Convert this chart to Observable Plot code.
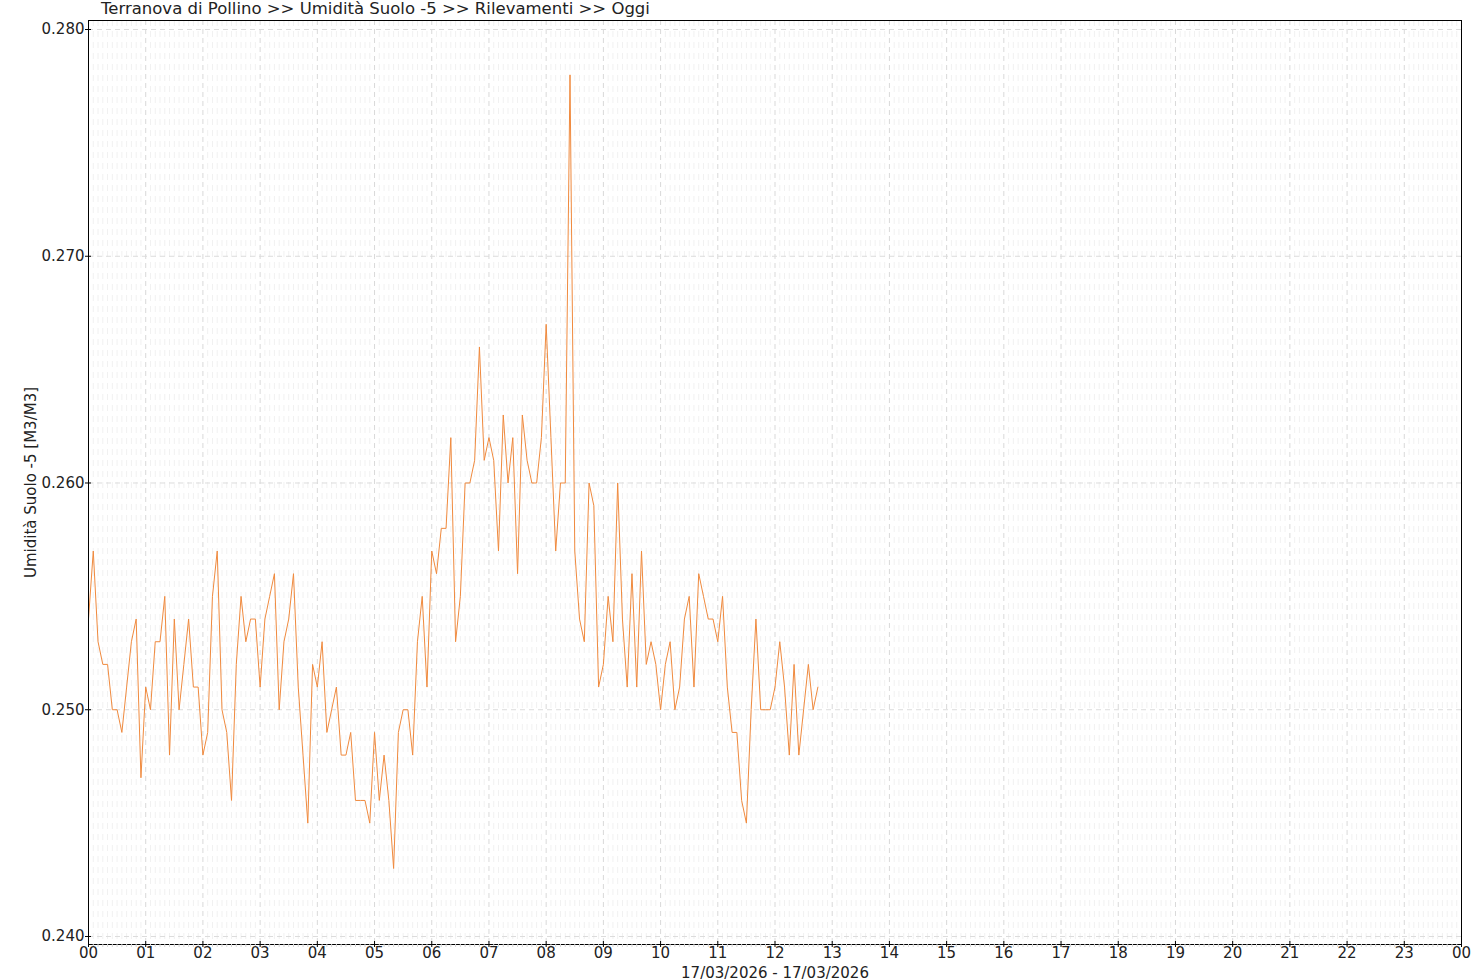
<!DOCTYPE html>
<html><head><meta charset="utf-8">
<script src="https://cdn.jsdelivr.net/npm/d3@7"></script>
<script src="https://cdn.jsdelivr.net/npm/@observablehq/plot@0.6"></script>
<style>
body{margin:0;background:#fff;font-family:"DejaVu Sans",sans-serif;}
#wrap{position:relative;width:1480px;height:980px;}
#title{position:absolute;left:101px;top:-1px;font-size:16.5px;line-height:19px;color:#222;white-space:nowrap;}
#chart{position:absolute;left:0;top:0;}
</style></head><body>
<div id="wrap"><div id="chart"></div><div id="title"></div></div>
<script>
const titleText = "Terranova di Pollino >> Umidità Suolo -5 >> Rilevamenti >> Oggi";
const yLabel = "Umidità Suolo -5 [M3/M3]";
const dateRange = "17/03/2026 - 17/03/2026";
const hourTicks = [0,1,2,3,4,5,6,7,8,9,10,11,12,13,14,15,16,17,18,19,20,21,22,23,24];
const hourLabels = ["00","01","02","03","04","05","06","07","08","09","10","11","12","13","14","15","16","17","18","19","20","21","22","23","00"];
const yTicks = [0.240, 0.250, 0.260, 0.270, 0.280];
const startMinute = 0;
const stepMinutes = 5;
const values = [
  0.254,0.257,0.253,0.252,0.252,0.250,0.250,0.249,0.251,0.253,0.254,0.247,
  0.251,0.250,0.253,0.253,0.255,0.248,0.254,0.250,0.252,0.254,0.251,0.251,
  0.248,0.249,0.255,0.257,0.250,0.249,0.246,0.252,0.255,0.253,0.254,0.254,
  0.251,0.254,0.255,0.256,0.250,0.253,0.254,0.256,0.251,0.248,0.245,0.252,
  0.251,0.253,0.249,0.250,0.251,0.248,0.248,0.249,0.246,0.246,0.246,0.245,
  0.249,0.246,0.248,0.246,0.243,0.249,0.250,0.250,0.248,0.253,0.255,0.251,
  0.257,0.256,0.258,0.258,0.262,0.253,0.255,0.260,0.260,0.261,0.266,0.261,
  0.262,0.261,0.257,0.263,0.260,0.262,0.256,0.263,0.261,0.260,0.260,0.262,
  0.267,0.262,0.257,0.260,0.260,0.278,0.257,0.254,0.253,0.260,0.259,0.251,
  0.252,0.255,0.253,0.260,0.254,0.251,0.256,0.251,0.257,0.252,0.253,0.252,
  0.250,0.252,0.253,0.250,0.251,0.254,0.255,0.251,0.256,0.255,0.254,0.254,
  0.253,0.255,0.251,0.249,0.249,0.246,0.245,0.250,0.254,0.250,0.250,0.250,
  0.251,0.253,0.251,0.248,0.252,0.248,0.250,0.252,0.250,0.251
];

document.getElementById("title").textContent = titleText;

const data = values.map((v, i) => ({h: (startMinute + i * stepMinutes) / 60, v}));
const minorTicks = d3.range(0, 24 * 60 + 1, stepMinutes).map(m => m / 60).filter(h => !Number.isInteger(h));
const hourFmt = d => hourLabels[hourTicks.indexOf(d)];

const chart = Plot.plot({
  width: 1480,
  height: 980,
  marginLeft: 88,
  marginRight: 19,
  marginTop: 20,
  marginBottom: 36,
  style: {fontFamily: "DejaVu Sans, sans-serif", fontSize: "15px", color: "#222", background: "#fff"},
  x: {type: "linear", domain: [0, 24]},
  y: {domain: [0.239647, 0.280397]},
  marks: [
    Plot.gridX(minorTicks, {stroke: "#f1f1f1", strokeOpacity: 1, strokeDasharray: "6,5"}),
    Plot.gridX(hourTicks, {stroke: "#d9d9d9", strokeOpacity: 1, strokeDasharray: "5,4"}),
    Plot.gridY(yTicks, {stroke: "#dcdcdc", strokeOpacity: 1, strokeDasharray: "5,4"}),
    Plot.line(data, {x: "h", y: "v", stroke: "#f08a3e", strokeWidth: 1}),
    Plot.frame({stroke: "#000"}),
    Plot.axisX(minorTicks, {tickSize: 3, stroke: "#d5d5d5", tickFormat: () => "", label: null}),
    Plot.axisX(hourTicks, {tickSize: 3, tickPadding: 0, fontSize: 15, tickFormat: hourFmt, stroke: "#000", label: null}),
    Plot.axisX(hourTicks, {tickSize: -3, tickFormat: () => "", stroke: "#000",
      label: dateRange, labelAnchor: "center", labelArrow: "none", labelOffset: 33}),
    Plot.axisY(yTicks, {tickSize: 3, tickPadding: 1, fontSize: 15, tickFormat: d3.format(".3f"), stroke: "#000",
      label: yLabel, labelAnchor: "center", labelArrow: "none", labelOffset: 63}),
    Plot.axisY(yTicks, {tickSize: -3, tickFormat: () => "", stroke: "#000", label: null})
  ]
});
document.getElementById("chart").appendChild(chart);
</script>
</body></html>
